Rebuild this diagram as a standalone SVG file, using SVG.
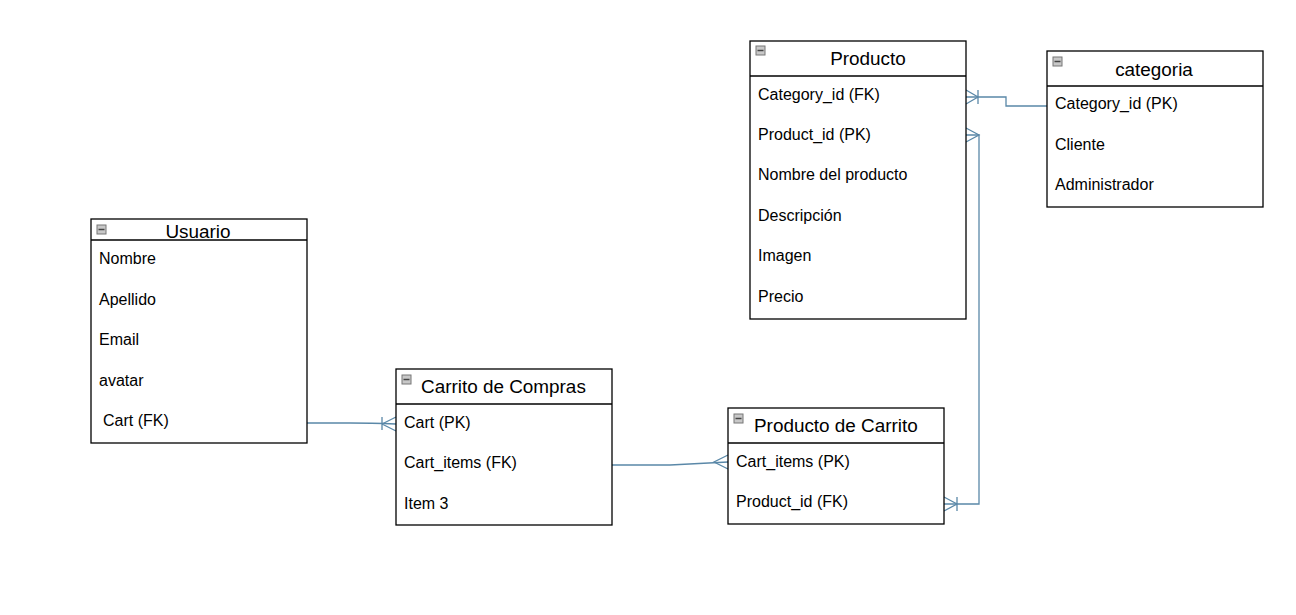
<svg xmlns="http://www.w3.org/2000/svg" width="1296" height="615" viewBox="0 0 1296 615">
<style>
.box{fill:#fff;stroke:#000;stroke-width:1.3}
.hl{stroke:#000;stroke-width:1.3}
.title{font-family:"Liberation Sans",Arial,sans-serif;font-size:18.9px;fill:#000}
.row{font-family:"Liberation Sans",Arial,sans-serif;font-size:16px;fill:#000}
.ico{fill:#c8c8c8;stroke:#777;stroke-width:1}
.icl{stroke:#444;stroke-width:1.5}
.conn{fill:none;stroke:#5a88a8;stroke-width:1.3}
</style>
<defs>
<g id="icon"><rect class="ico" x="0" y="0" width="9" height="9"/><line class="icl" x1="1.5" y1="4.5" x2="7.5" y2="4.5"/></g>
</defs>
<g id="connectors">
<path class="conn" d="M307,423 L350,423 Q370,423 396,424"/>
<path class="conn" d="M382,417 V430 M382,424 L396,417 M382,424 L396,431"/>
<path class="conn" d="M612,465 L670,465 Q690,464 728,462"/>
<path class="conn" d="M728,455 L714,462 L728,469"/>
<path class="conn" d="M1047,106 H1006 V97 H966"/>
<path class="conn" d="M978,90 V104 M966,90 L978,97 L966,104"/>
<path class="conn" d="M944,504 H979 V135 H966"/>
<path class="conn" d="M966,128 L979,135 L966,142"/>
<path class="conn" d="M957,497 V511 M944,497 L957,504 L944,511"/>
</g>
<g id="producto">
<rect class="box" x="750" y="41" width="216" height="278"/>
<line class="hl" x1="750" y1="76" x2="966" y2="76"/>
<use href="#icon" x="756" y="46"/>
<text class="title" x="868" y="65" text-anchor="middle">Producto</text>
<text class="row" x="758" y="100">Category_id (FK)</text>
<text class="row" x="758" y="140">Product_id (PK)</text>
<text class="row" x="758" y="180">Nombre del producto</text>
<text class="row" x="758" y="221">Descripción</text>
<text class="row" x="758" y="261">Imagen</text>
<text class="row" x="758" y="302">Precio</text>
</g>
<g id="categoria">
<rect class="box" x="1047" y="51" width="216" height="156"/>
<line class="hl" x1="1047" y1="86" x2="1263" y2="86"/>
<use href="#icon" x="1053" y="57"/>
<text class="title" x="1154" y="76" text-anchor="middle">categoria</text>
<text class="row" x="1055" y="109">Category_id (PK)</text>
<text class="row" x="1055" y="150">Cliente</text>
<text class="row" x="1055" y="190">Administrador</text>
</g>
<g id="usuario">
<rect class="box" x="91" y="219" width="216" height="224"/>
<line class="hl" x1="91" y1="240" x2="307" y2="240"/>
<use href="#icon" x="97" y="225"/>
<text class="title" x="198" y="238" text-anchor="middle">Usuario</text>
<text class="row" x="99" y="264">Nombre</text>
<text class="row" x="99" y="305">Apellido</text>
<text class="row" x="99" y="345">Email</text>
<text class="row" x="99" y="386">avatar</text>
<text class="row" x="103" y="426">Cart (FK)</text>
</g>
<g id="carrito">
<rect class="box" x="396" y="369" width="216" height="156"/>
<line class="hl" x1="396" y1="404" x2="612" y2="404"/>
<use href="#icon" x="402" y="375"/>
<text class="title" x="421" y="393">Carrito de Compras</text>
<text class="row" x="404" y="428">Cart (PK)</text>
<text class="row" x="404" y="468">Cart_items (FK)</text>
<text class="row" x="404" y="509">Item 3</text>
</g>
<g id="producto-carrito">
<rect class="box" x="728" y="408" width="216" height="116"/>
<line class="hl" x1="728" y1="443" x2="944" y2="443"/>
<use href="#icon" x="734" y="414"/>
<text class="title" x="754" y="432">Producto de Carrito</text>
<text class="row" x="736" y="467">Cart_items (PK)</text>
<text class="row" x="736" y="507">Product_id (FK)</text>
</g>
</svg>
